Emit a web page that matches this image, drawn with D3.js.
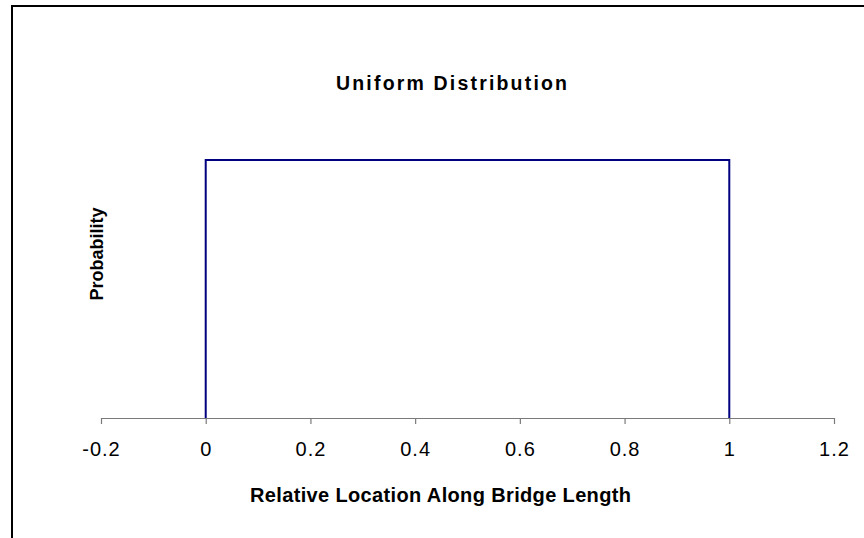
<!DOCTYPE html>
<html>
<head>
<meta charset="utf-8">
<script src="https://cdn.jsdelivr.net/npm/d3@7"></script>
<style>
  html, body { margin: 0; padding: 0; background: #fff; }
  svg { display: block; }
  text { font-family: "Liberation Sans", Arial, sans-serif; }
</style>
</head>
<body>
<svg id="chart" width="864" height="538"></svg>
<script>
// Data
const xValues = [0, 0, 1, 1];
const yValues = [0, 1, 1, 0];
const xTicks = [-0.2, 0, 0.2, 0.4, 0.6, 0.8, 1, 1.2];
const xTickLabels = ["-0.2", "0", "0.2", "0.4", "0.6", "0.8", "1", "1.2"];
const chartTitle = "Uniform Distribution";
const xTitle = "Relative Location Along Bridge Length";
const yTitle = "Probability";

const svg = d3.select("#chart");

// Outer border (cropped at right and bottom)
svg.append("rect")
  .attr("x", 12).attr("y", 6)
  .attr("width", 900).attr("height", 600)
  .attr("fill", "none").attr("stroke", "#000").attr("stroke-width", 2);

const x = d3.scaleLinear().domain([-0.2, 1.2]).range([101, 834]);
const y = d3.scaleLinear().domain([0, 1]).range([418, 160]);

// X axis
const xAxis = d3.axisBottom(x)
  .tickValues(xTicks)
  .tickFormat((d, i) => xTickLabels[i])
  .tickSizeInner(6).tickSizeOuter(0).tickPadding(18);

const gx = svg.append("g").attr("transform", `translate(0,${y(0)})`).call(xAxis);
gx.select(".domain").attr("stroke", "#7a7a7a").attr("stroke-width", 1.2);
gx.selectAll(".tick line").attr("stroke", "#7a7a7a").attr("stroke-width", 1.2);
gx.selectAll(".tick text")
  .attr("font-family", "'Liberation Sans', Arial, sans-serif")
  .attr("font-size", 20)
  .attr("letter-spacing", 1)
  .attr("fill", "#000");

// Series line
const line = d3.line().x((d, i) => x(xValues[i])).y((d, i) => y(yValues[i]));
svg.append("path")
  .datum(xValues)
  .attr("d", line)
  .attr("fill", "none")
  .attr("stroke", "#000080")
  .attr("stroke-width", 2);

// Title
svg.append("text")
  .attr("x", 336).attr("y", 90)
  .attr("font-size", 19.5)
  .attr("font-weight", "bold")
  .attr("textLength", 231)
  .attr("lengthAdjust", "spacing")
  .text(chartTitle);

// X axis title
svg.append("text")
  .attr("x", 250).attr("y", 502)
  .attr("font-size", 20)
  .attr("font-weight", "bold")
  .attr("textLength", 381)
  .attr("lengthAdjust", "spacing")
  .text(xTitle);

// Y axis title
svg.append("text")
  .attr("transform", "translate(103,254) rotate(-90)")
  .attr("text-anchor", "middle")
  .attr("font-size", 18)
  .attr("font-weight", "bold")
  .text(yTitle);
</script>
</body>
</html>
